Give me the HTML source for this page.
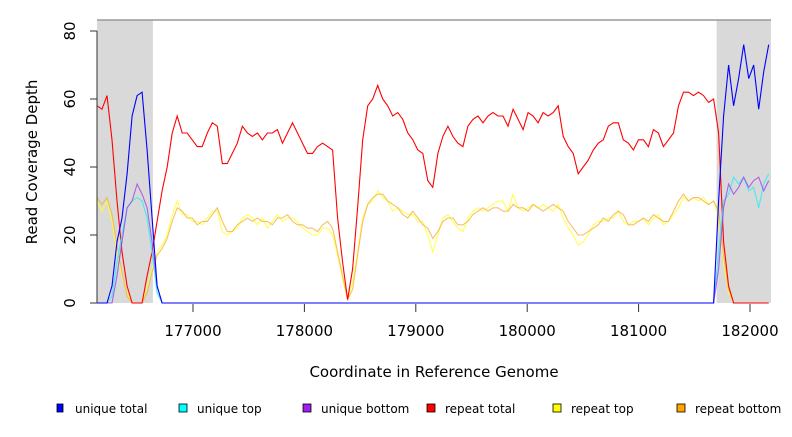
<!DOCTYPE html>
<html><head><meta charset="utf-8"><style>
body{margin:0;background:#fff;}
svg text{font-family:"DejaVu Sans","Liberation Sans",sans-serif;fill:#000;}
</style></head><body>
<svg id="chart" width="792" height="432" viewBox="0 0 792 432" xmlns="http://www.w3.org/2000/svg">
<g id="plot"></g>
<g id="axes"></g>
<g id="legend"></g>
</svg>
<script>
const xStart = 176138, xStep = 45;
const xTicks = [177000,178000,179000,180000,181000,182000];
const yTicks = [0,20,40,60,80];
const shadeRegions = [[176138,176640],[181700,182190]];
const repeatTotal = [58,57,61,48,30,15,5,0,0,0,8,15,24,33,40,50,55,50,50,48,46,46,50,53,52,41,41,44,47,52,50,49,50,48,50,50,51,47,50,53,50,47,44,44,46,47,46,45,25,12,1,10,28,48,58,60,64,60,58,55,56,54,50,48,45,44,36,34,44,49,52,49,47,46,52,54,55,53,55,56,55,55,52,57,54,51,56,55,53,56,55,56,58,49,46,44,38,40,42,45,47,48,52,53,53,48,47,45,48,48,46,51,50,46,48,50,58,62,62,61,62,61,59,60,50,18,5,0,0,0,0,0,0,0,0,0];
const repeatTop = [30,27,30,24,15,8,3,0,0,0,5,10,15,17,20,26,30,26,26,24,24,23,25,27,27,21,20,21,22,25,26,25,23,25,22,24,26,24,25,25,24,22,21,20,20,22,22,20,14,7,1,6,15,25,29,30,33,31,30,27,28,27,26,26,24,24,20,15,20,25,26,24,22,21,25,27,28,27,28,29,30,30,27,32,28,27,28,29,28,29,28,27,29,25,22,20,17,18,20,23,24,24,25,25,27,24,23,24,24,25,23,25,26,23,24,26,28,31,30,31,30,31,29,30,25,12,3,0,0,0,0,0,0,0,0,0];
const repeatBottom = [31,29,31,26,17,9,2,0,0,0,3,9,14,16,19,24,28,27,25,25,23,24,24,26,28,24,21,21,23,24,25,24,25,24,24,23,25,25,26,24,23,23,22,22,21,23,24,22,15,8,1,4,14,24,29,31,32,32,30,29,28,26,25,27,25,23,22,19,21,24,25,25,23,23,24,26,27,28,27,28,28,27,27,29,28,28,27,29,28,27,28,29,28,27,24,22,20,20,21,22,23,25,24,26,27,26,23,23,24,25,24,26,25,24,24,27,30,32,30,31,31,30,29,30,27,14,4,0,0,0,0,0,0,0,0,0];
const uniqueTotal = [0,0,0,5,18,25,38,55,61,62,45,25,5,0,0,0,0,0,0,0,0,0,0,0,0,0,0,0,0,0,0,0,0,0,0,0,0,0,0,0,0,0,0,0,0,0,0,0,0,0,0,0,0,0,0,0,0,0,0,0,0,0,0,0,0,0,0,0,0,0,0,0,0,0,0,0,0,0,0,0,0,0,0,0,0,0,0,0,0,0,0,0,0,0,0,0,0,0,0,0,0,0,0,0,0,0,0,0,0,0,0,0,0,0,0,0,0,0,0,0,0,0,0,0,30,55,70,58,66,76,66,70,57,68,76,70];
const uniqueTop = [0,0,0,2,12,20,28,30,31,30,25,15,3,0,0,0,0,0,0,0,0,0,0,0,0,0,0,0,0,0,0,0,0,0,0,0,0,0,0,0,0,0,0,0,0,0,0,0,0,0,0,0,0,0,0,0,0,0,0,0,0,0,0,0,0,0,0,0,0,0,0,0,0,0,0,0,0,0,0,0,0,0,0,0,0,0,0,0,0,0,0,0,0,0,0,0,0,0,0,0,0,0,0,0,0,0,0,0,0,0,0,0,0,0,0,0,0,0,0,0,0,0,0,0,15,30,32,37,35,37,33,34,28,35,38,39];
const uniqueBottom = [0,0,0,0,8,18,28,30,35,32,28,18,5,0,0,0,0,0,0,0,0,0,0,0,0,0,0,0,0,0,0,0,0,0,0,0,0,0,0,0,0,0,0,0,0,0,0,0,0,0,0,0,0,0,0,0,0,0,0,0,0,0,0,0,0,0,0,0,0,0,0,0,0,0,0,0,0,0,0,0,0,0,0,0,0,0,0,0,0,0,0,0,0,0,0,0,0,0,0,0,0,0,0,0,0,0,0,0,0,0,0,0,0,0,0,0,0,0,0,0,0,0,0,0,10,28,35,32,34,37,34,36,37,33,36,34];
const seriesNames = ["repeat total","repeat top","repeat bottom","unique total","unique top","unique bottom"];
const legendNames = ["unique total","unique top","unique bottom","repeat total","repeat top","repeat bottom"];

const NS="http://www.w3.org/2000/svg";
const L=97,R=771,T=20,B=303;
function xS(bp){return 193+(bp-177000)*0.1114;}
function yS(v){return 303-v*3.4;}
function mk(tag,attrs,parent){const e=document.createElementNS(NS,tag);for(const k in attrs)e.setAttribute(k,attrs[k]);parent.appendChild(e);return e;}
const plotG=document.getElementById('plot'),axesG=document.getElementById('axes'),legendG=document.getElementById('legend');

shadeRegions.forEach((r,i)=>{
  const x0=Math.max(L,xS(r[0])),x1=Math.min(R,xS(r[1]));
  const e=mk('rect',{x:x0,y:T,width:x1-x0,height:B-T,fill:'#d9d9d9'},plotG);
  
  
});
const topBorder=mk('line',{x1:L,y1:T,x2:R,y2:T,stroke:'#999',"stroke-width":1.5},plotG);



function drawSeries(vals,color,name,op){
  let d='';
  vals.forEach((v,i)=>{const x=xS(xStart+i*xStep);if(x>R)return;d+=(i?'L':'M')+x.toFixed(1)+','+yS(v).toFixed(1);});
  const p=mk('path',{d:d,fill:'none',stroke:color,"stroke-width":1.1,opacity:op},plotG);
  
  
}
drawSeries(repeatTop,'#ffff33',seriesNames[1],0.85);
drawSeries(repeatBottom,'#f5b042',seriesNames[2],0.8);
drawSeries(repeatTotal,'#ff0000',seriesNames[0],1);
drawSeries(uniqueTop,'#33eeee',seriesNames[4],0.9);
drawSeries(uniqueBottom,'#a040f0',seriesNames[5],0.8);
drawSeries(uniqueTotal,'#0000ff',seriesNames[3],1);

const ya=mk('line',{x1:L,y1:yS(0),x2:L,y2:yS(80),stroke:'#333'},axesG);


yTicks.forEach(v=>{
  const y=yS(v);
  const t=mk('line',{x1:L-7,y1:y,x2:L,y2:y,stroke:'#333'},axesG);
  
  
  const tx=mk('text',{x:75,y:y,"font-size":15,"text-anchor":"middle",transform:`rotate(-90 75 ${y})`},axesG);
  tx.textContent=v;
  
  
});
xTicks.forEach(v=>{
  const x=xS(v);
  const t=mk('line',{x1:x,y1:B+1,x2:x,y2:B+9,stroke:'#333'},axesG);
  
  
  const tx=mk('text',{x:x,y:336,"font-size":15,"text-anchor":"middle"},axesG);
  tx.textContent=v;
  
  
});
const yt=mk('text',{x:37,y:162,"font-size":15,"text-anchor":"middle",transform:'rotate(-90 37 162)'},axesG);
yt.textContent='Read Coverage Depth';


const xt=mk('text',{x:434,y:377,"font-size":15,"text-anchor":"middle"},axesG);
xt.textContent='Coordinate in Reference Genome';



const legColors={"unique total":"#0000ff","unique top":"#00ffff","unique bottom":"#a020f0","repeat total":"#ff0000","repeat top":"#ffff00","repeat bottom":"#ffa500"};
const legX=[57,179,303,427,553,677];
legendNames.forEach((n,i)=>{
  const x=legX[i];
  const r=mk('rect',{x:x,y:404,width:i===0?6:8,height:8,fill:legColors[n],stroke:'#000',"stroke-width":0.8},legendG);
  
  
  const t=mk('text',{x:x+18,y:413,"font-size":12},legendG);
  t.textContent=n;
  
  
});
</script>
</body></html>
